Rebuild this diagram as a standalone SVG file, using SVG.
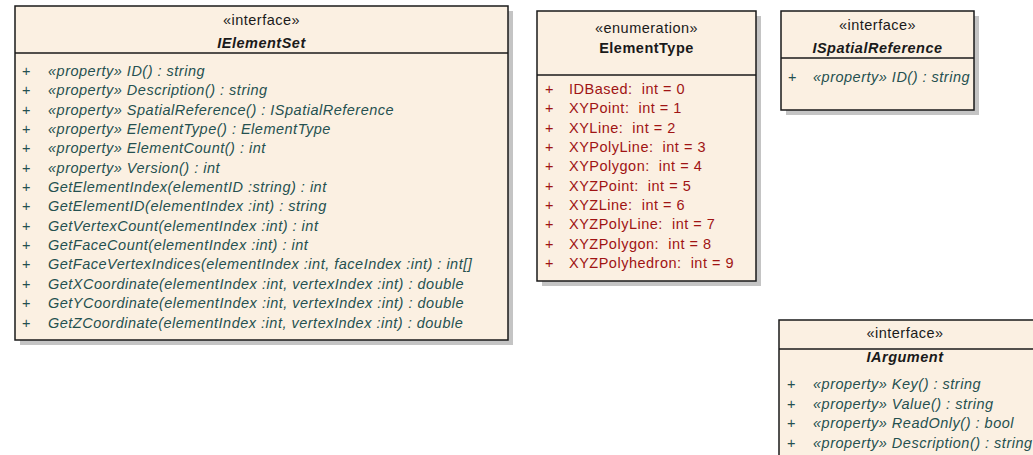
<svg xmlns="http://www.w3.org/2000/svg" width="1033" height="455" viewBox="0 0 1033 455">
<style>
.box{fill:#FBF0E2;stroke:#1a1a1a;stroke-width:1.5}
.shadow{fill:#C4C4C4}
.div{stroke:#1a1a1a;stroke-width:1.5}
text{font-family:"Liberation Sans",Arial,sans-serif;font-size:14.5px;letter-spacing:0.5px}
.st{fill:#1a1a1a;text-anchor:middle}
.nm{fill:#1a1a1a;text-anchor:middle;font-weight:bold}
.it{font-style:italic}
.op{fill:#255050;font-style:italic}
.pl{fill:#255050}
.en{fill:#A01414}
.en text{white-space:pre}
</style>
<rect width="1033" height="455" fill="#ffffff"/>
<g id="IElementSet">
<rect class="shadow" x="20" y="11" width="493" height="334"/>
<rect class="box" x="15" y="6" width="493" height="334"/>
<line class="div" x1="15" y1="53" x2="508" y2="53"/>
<text class="st" x="261.5" y="25">«interface»</text>
<text class="nm it" x="261.5" y="48">IElementSet</text>
<g class="pl">
<text x="22" y="76">+</text><text x="22" y="95">+</text><text x="22" y="115">+</text><text x="22" y="134">+</text><text x="22" y="153">+</text><text x="22" y="173">+</text><text x="22" y="192">+</text><text x="22" y="211">+</text><text x="22" y="231">+</text><text x="22" y="250">+</text><text x="22" y="269">+</text><text x="22" y="289">+</text><text x="22" y="308">+</text><text x="22" y="328">+</text>
</g>
<g class="op">
<text x="48" y="76">«property» ID() : string</text>
<text x="48" y="95">«property» Description() : string</text>
<text x="48" y="115">«property» SpatialReference() : ISpatialReference</text>
<text x="48" y="134">«property» ElementType() : ElementType</text>
<text x="48" y="153">«property» ElementCount() : int</text>
<text x="48" y="173">«property» Version() : int</text>
<text x="48" y="192">GetElementIndex(elementID :string) : int</text>
<text x="48" y="211">GetElementID(elementIndex :int) : string</text>
<text x="48" y="231">GetVertexCount(elementIndex :int) : int</text>
<text x="48" y="250">GetFaceCount(elementIndex :int) : int</text>
<text x="48" y="269">GetFaceVertexIndices(elementIndex :int, faceIndex :int) : int[]</text>
<text x="48" y="289">GetXCoordinate(elementIndex :int, vertexIndex :int) : double</text>
<text x="48" y="308">GetYCoordinate(elementIndex :int, vertexIndex :int) : double</text>
<text x="48" y="328">GetZCoordinate(elementIndex :int, vertexIndex :int) : double</text>
</g>
</g>
<g id="ElementType">
<rect class="shadow" x="542" y="16" width="219" height="270"/>
<rect class="box" x="537" y="11" width="219" height="270"/>
<line class="div" x1="537" y1="75" x2="756" y2="75"/>
<text class="st" x="646.5" y="33">«enumeration»</text>
<text class="nm" x="646.5" y="53">ElementType</text>
<g class="en">
<text x="545" y="94">+</text><text x="545" y="113">+</text><text x="545" y="133">+</text><text x="545" y="152">+</text><text x="545" y="171">+</text><text x="545" y="191">+</text><text x="545" y="210">+</text><text x="545" y="229">+</text><text x="545" y="249">+</text><text x="545" y="268">+</text>
<text x="569" y="94" xml:space="preserve">IDBased:  int = 0</text>
<text x="569" y="113" xml:space="preserve">XYPoint:  int = 1</text>
<text x="569" y="133" xml:space="preserve">XYLine:  int = 2</text>
<text x="569" y="152" xml:space="preserve">XYPolyLine:  int = 3</text>
<text x="569" y="171" xml:space="preserve">XYPolygon:  int = 4</text>
<text x="569" y="191" xml:space="preserve">XYZPoint:  int = 5</text>
<text x="569" y="210" xml:space="preserve">XYZLine:  int = 6</text>
<text x="569" y="229" xml:space="preserve">XYZPolyLine:  int = 7</text>
<text x="569" y="249" xml:space="preserve">XYZPolygon:  int = 8</text>
<text x="569" y="268" xml:space="preserve">XYZPolyhedron:  int = 9</text>
</g>
</g>
<g id="ISpatialReference">
<rect class="shadow" x="786" y="16" width="193" height="99"/>
<rect class="box" x="781" y="11" width="193" height="99"/>
<line class="div" x1="781" y1="58" x2="974" y2="58"/>
<text class="st" x="877.5" y="30">«interface»</text>
<text class="nm it" x="877.5" y="53">ISpatialReference</text>
<text class="pl" x="788" y="82">+</text>
<text class="op" x="813" y="82">«property» ID() : string</text>
</g>
<g id="IArgument">
<rect class="shadow" x="784" y="325" width="260" height="140"/>
<rect class="box" x="779" y="320" width="260" height="140"/>
<line class="div" x1="779" y1="349" x2="1039" y2="349"/>
<text class="st" x="905" y="338">«interface»</text>
<text class="nm it" x="905" y="362">IArgument</text>
<g class="pl">
<text x="787" y="389">+</text><text x="787" y="409">+</text><text x="787" y="428">+</text><text x="787" y="448">+</text>
</g>
<g class="op">
<text x="813" y="389">«property» Key() : string</text>
<text x="813" y="409">«property» Value() : string</text>
<text x="813" y="428">«property» ReadOnly() : bool</text>
<text x="813" y="448">«property» Description() : string</text>
</g>
</g>
<g id="connectors"></g>
</svg>
